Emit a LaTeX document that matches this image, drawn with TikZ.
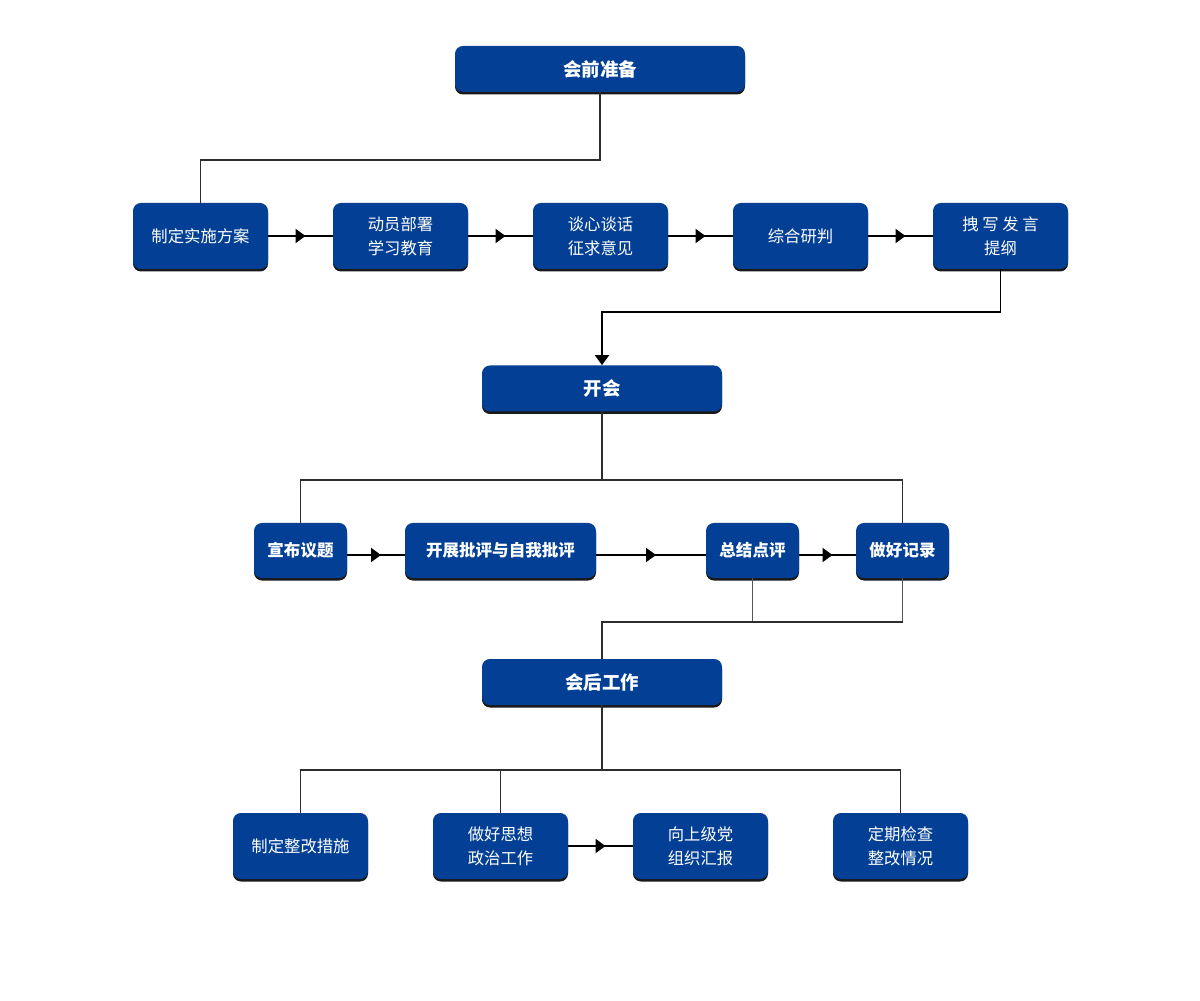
\documentclass[tikz,border=0pt]{standalone}
\usepackage{fontspec}
\setmainfont{Noto Sans CJK SC}
\usetikzlibrary{arrows.meta,calc,shadows,decorations.markings}
\definecolor{meetBlue}{RGB}{3,64,149}
\definecolor{meetLine}{RGB}{45,45,45}
\tikzset{
  phase/.style={draw=none, rounded corners=4.5pt, fill=meetBlue, text=white,
    minimum width=4.8cm, minimum height=0.92cm, align=center, font=\fontsize{10.5}{13}\selectfont\bfseries,
    drop shadow={shadow xshift=0pt, shadow yshift=-0.05cm, fill=black, opacity=0.9}},
  task/.style={draw=none, rounded corners=4.5pt, fill=meetBlue, text=white,
    minimum width=2.7cm, minimum height=1.32cm, align=center, font=\fontsize{9.3}{13.6}\selectfont,
    drop shadow={shadow xshift=0pt, shadow yshift=-0.05cm, fill=black, opacity=0.9}},
  taskbold/.style={task, minimum width=1.86cm, minimum height=1.1cm, font=\fontsize{9.4}{13}\selectfont\bfseries},
  link/.style={draw=meetLine, line width=1.1pt},
  thinlink/.style={draw=meetLine!80, line width=0.7pt},
  midarrow/.style={draw=black, line width=1.1pt, decoration={markings,
    mark=at position 0.5 with {\arrow[xshift=0.1cm]{Triangle[length=0.2cm,width=0.28cm]}}},
    postaction={decorate}},
  downarrow/.style={draw=black, line width=1.1pt, -{Triangle[length=0.2cm,width=0.28cm]}}
}
\begin{document}
\begin{tikzpicture}[x=1cm,y=1cm]
    \useasboundingbox (0,0) rectangle (24,20);
    % stage 1
    \node[phase, minimum width=5.8cm] (prep) at (12.00,18.62) {会前准备};
    \node[task] (fangan) at (4.01,15.28) {制定实施方案};
    \node[task] (bushu) at (8.01,15.28) {动员部署\\学习教育};
    \node[task] (tanxin) at (12.01,15.28) {谈心谈话\\征求意见};
    \node[task] (yanpan) at (16.01,15.28) {综合研判};
    \node[task] (tigang) at (20.01,15.28) {拽 写 发 言\\提纲};
    \coordinate (bar1) at (0,16.80);
    \draw[link] (prep.south) -- (prep.south |- bar1) -| (fangan.north);
    \draw[midarrow] (fangan.east) -- (bushu.west);
    \draw[midarrow] (bushu.east) -- (tanxin.west);
    \draw[midarrow] (tanxin.east) -- (yanpan.west);
    \draw[midarrow] (yanpan.east) -- (tigang.west);
    % stage 2
    \node[phase] (kaihui) at (12.04,12.23) {开会};
    \coordinate (bar2) at (0,13.76);
    \draw[downarrow] (tigang.south) -- (tigang.south |- bar2) -| (kaihui.north);
    \node[taskbold] (xuanbu) at (6.01,8.99) {宣布议题};
    \node[taskbold, minimum width=3.82cm] (piping) at (10.01,8.99) {开展批评与自我批评};
    \node[taskbold] (zongjie) at (15.05,8.99) {总结点评};
    \node[taskbold] (jilu) at (18.05,8.99) {做好记录};
    \coordinate (bar3) at (0,10.40);
    \draw[link] (kaihui.south) -- (kaihui.south |- bar3);
    \draw[link] (xuanbu.north) |- (jilu.north |- bar3) -- (jilu.north);
    \draw[midarrow] ([yshift=-0.09cm]xuanbu.east) -- ([yshift=-0.09cm]piping.west);
    \draw[midarrow] ([yshift=-0.09cm]piping.east) -- ([yshift=-0.09cm]zongjie.west);
    \draw[midarrow] ([yshift=-0.09cm]zongjie.east) -- ([yshift=-0.09cm]jilu.west);
    % stage 3
    \node[phase] (huihou) at (12.04,6.36) {会后工作};
    \coordinate (bar4) at (0,7.56);
    \draw[thinlink] (zongjie.south) -- (zongjie.south |- bar4);
    \draw[thinlink] (jilu.south) -- (jilu.south |- bar4);
    \draw[link] (jilu.south |- bar4) -| (huihou.north);
    \node[task] (zhenggai) at (6.01,3.08) {制定整改措施};
    \node[task] (sixiang) at (10.01,3.08) {做好思想\\政治工作};
    \node[task] (huibao) at (14.01,3.08) {向上级党\\组织汇报};
    \node[task] (jiancha) at (18.01,3.08) {定期检查\\整改情况};
    \coordinate (bar5) at (0,4.60);
    \draw[link] (huihou.south) -- (huihou.south |- bar5);
    \draw[link] (zhenggai.north) |- (jiancha.north |- bar5) -- (jiancha.north);
    \draw[link] (sixiang.north) -- (sixiang.north |- bar5);
    \draw[midarrow] (sixiang.east) -- (huibao.west);
  \end{tikzpicture}
\end{document}
